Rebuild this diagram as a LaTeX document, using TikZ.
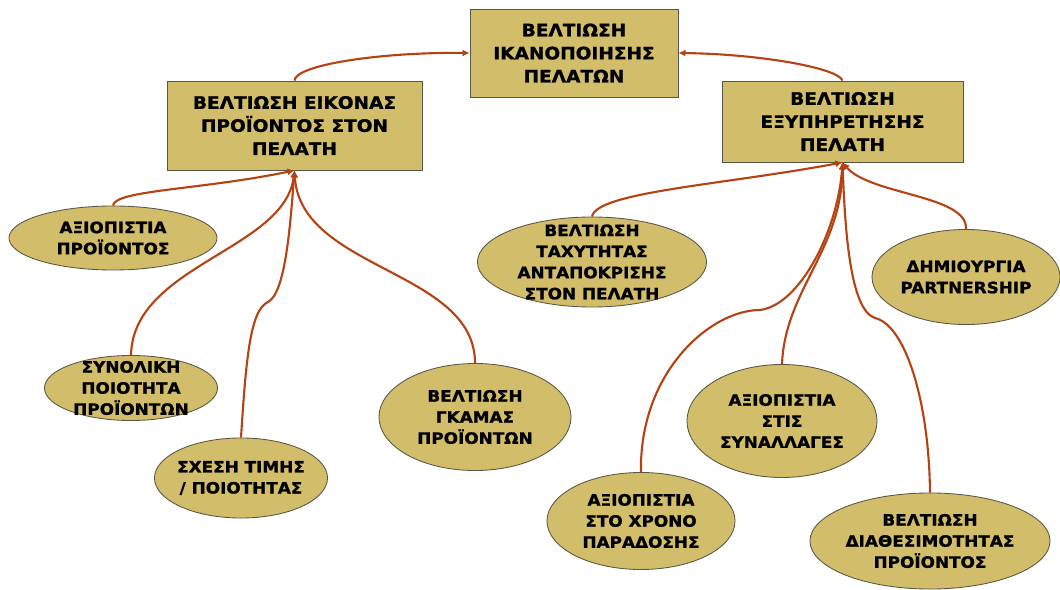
\documentclass[tikz,border=0pt]{standalone}
\usepackage{fontspec}
\newfontfamily\diagfont{DejaVu Sans Bold}[FakeStretch=1.08, FakeBold=1.2]
\usepackage{xcolor}
\usepackage{tikz}
\usetikzlibrary{arrows.meta}
\usetikzlibrary{shapes.geometric}
\definecolor{khaki}{RGB}{210,189,106}
\definecolor{rust}{RGB}{181,66,18}
\definecolor{rim}{RGB}{88,84,70}
\tikzset{>={Latex[length=5pt,width=5pt]}}
\tikzstyle{goal} = [rectangle, draw=rim, line width=0.6pt, fill=khaki, align=center, inner sep=0, font=\diagfont\fontsize{12.2}{16.4}\selectfont]
\tikzstyle{factor} = [ellipse, draw=rim, line width=0.6pt, fill=khaki, inner sep=0]
\tikzstyle{factext} = [align=center, inner sep=0, font=\diagfont\fontsize{11.1}{15}\selectfont]
\tikzstyle{link} = [->, draw=rust, line width=1.5pt]

\begin{document}
\begin{tikzpicture}[x=0.025cm, y=-0.025cm]
\useasboundingbox (0,0) rectangle (1060,590);
\node [goal, minimum width=5.2cm, minimum height=2.2cm] (satisf) at (574,53) {ΒΕΛΤΙΩΣΗ\\ΙΚΑΝΟΠΟΙΗΣΗΣ\\ΠΕΛΑΤΩΝ};
\node [goal, minimum width=6.375cm, minimum height=2.225cm] (image) at (294.5,125.5) {ΒΕΛΤΙΩΣΗ ΕΙΚΟΝΑΣ\\ΠΡΟΪΟΝΤΟΣ ΣΤΟΝ\\ΠΕΛΑΤΗ};
\node [goal, minimum width=6.025cm, minimum height=2.025cm] (service) at (842.5,121.5) {ΒΕΛΤΙΩΣΗ\\ΕΞΥΠΗΡΕΤΗΣΗΣ\\ΠΕΛΑΤΗ};

\node [factor, minimum width=5.2cm, minimum height=1.6cm, label={[factext]center:{ΑΞΙΟΠΙΣΤΙΑ\\ΠΡΟΪΟΝΤΟΣ}}] (reliab) at (113,238) {};
\node [factor, minimum width=4.325cm, minimum height=1.625cm, label={[factext]center:{ΣΥΝΟΛΙΚΗ\\ΠΟΙΟΤΗΤΑ\\ΠΡΟΪΟΝΤΩΝ}}] (quality) at (131,388) {};
\node [factor, minimum width=4.325cm, minimum height=2cm, label={[factext]center:{ΣΧΕΣΗ ΤΙΜΗΣ\\/ ΠΟΙΟΤΗΤΑΣ}}] (pricequal) at (241,478) {};
\node [factor, minimum width=4.8cm, minimum height=2.675cm, label={[factext]center:{ΒΕΛΤΙΩΣΗ\\ΓΚΑΜΑΣ\\ΠΡΟΪΟΝΤΩΝ}}] (range) at (475,417) {};
\node [factor, minimum width=5.725cm, minimum height=2.25cm, label={[factext]center:{ΒΕΛΤΙΩΣΗ\\ΤΑΧΥΤΗΤΑΣ\\ΑΝΤΑΠΟΚΡΙΣΗΣ\\ΣΤΟΝ ΠΕΛΑΤΗ}}] (speed) at (592,262) {};
\node [factor, minimum width=4.7cm, minimum height=2.375cm, label={[factext]center:{ΔΗΜΙΟΥΡΓΙΑ\\PARTNERSHIP}}] (partner) at (966,277) {};
\node [factor, minimum width=4.75cm, minimum height=2.825cm, label={[factext]center:{ΑΞΙΟΠΙΣΤΙΑ\\ΣΤΙΣ\\ΣΥΝΑΛΛΑΓΕΣ}}] (transact) at (782,421) {};
\node [factor, minimum width=4.7cm, minimum height=2.425cm, label={[factext]center:{ΑΞΙΟΠΙΣΤΙΑ\\ΣΤΟ ΧΡΟΝΟ\\ΠΑΡΑΔΟΣΗΣ}}] (timely) at (641,521) {};
\node [factor, minimum width=6cm, minimum height=2.4cm, label={[factext]center:{ΒΕΛΤΙΩΣΗ\\ΔΙΑΘΕΣΙΜΟΤΗΤΑΣ\\ΠΡΟΪΟΝΤΟΣ}}] (avail) at (930,541) {};

\coordinate (kinkL) at (268,302);
\coordinate (kinkT) at (760,310);
\coordinate (kinkA) at (875,318);

\draw [link] (image.north) .. controls (295,65) and (380,52) .. (satisf.west);
\draw [link] (service.north) .. controls (838,68) and (760,54) .. (satisf.east);

\draw [link] (reliab.north) .. controls (115,190) and (200,190) .. (image.south);
\draw [link] (quality.north) .. controls (133,265) and (285,250) .. (image.south);
\draw [link] (pricequal.north) .. controls (246,360) and (250,310) .. (kinkL) .. controls (285,293) and (290,230) .. (image.south);
\draw [link] (range.north) .. controls (475,270) and (300,270) .. (image.south);

\draw [link] (speed.north) .. controls (597,192) and (722,185) .. (service.south);
\draw [link] (partner.north) .. controls (968,195) and (870,195) .. (service.south);
\draw [link] (timely.north) .. controls (639,373) and (710,310) .. (kinkT) .. controls (800,305) and (838,230) .. (service.south);
\draw [link] (transact.north) .. controls (785,290) and (842,250) .. (service.south);
\draw [link] (avail.north) .. controls (929,400) and (905,325) .. (kinkA) .. controls (850,310) and (845,230) .. (service.south);
\end{tikzpicture}
\end{document}
